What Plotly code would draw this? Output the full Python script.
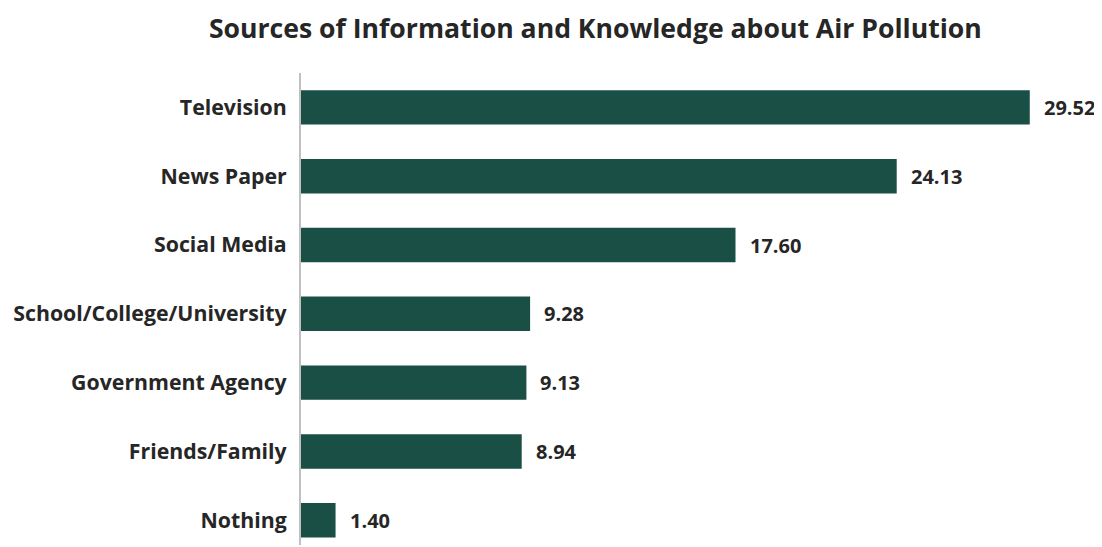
import plotly.graph_objects as go

SOURCES = ["Television", "News Paper", "Social Media", "School/College/University",
           "Government Agency", "Friends/Family", "Nothing"]
PERCENT = [29.52, 24.13, 17.60, 9.28, 9.13, 8.94, 1.40]

BAR = "#1a4f45"
TEXT = "#262626"
FONT = "Open Sans, Noto Sans, sans-serif"

fig = go.Figure(
    go.Bar(
        x=PERCENT,
        y=SOURCES,
        orientation="h",
        width=0.5,
        marker=dict(color=BAR, line=dict(width=0)),
        hoverinfo="x+y",
    )
)

for src, val in zip(SOURCES, PERCENT):
    fig.add_annotation(
        x=val, y=src, text=f"<b>{val:.2f}</b>", showarrow=False,
        xanchor="left", xshift=12, font=dict(size=20, color=TEXT, family=FONT),
    )

# page body adds an 8px offset, so margins are pulled in by 8
fig.update_layout(
    width=1102,
    height=547,
    paper_bgcolor="#FFFFFF",
    plot_bgcolor="#FFFFFF",
    margin=dict(l=293, r=19, t=65, b=10, autoexpand=False),
    showlegend=False,
    font=dict(family=FONT, color=TEXT),
    title=dict(
        text="<b>Sources of Information and Knowledge about Air Pollution</b>",
        x=0.533, xanchor="center", y=0.963, yanchor="middle",
        font=dict(size=26.6, color=TEXT, family=FONT),
    ),
)
fig.update_xaxes(range=[0, 32], visible=False, showgrid=False, zeroline=False)
fig.update_yaxes(
    range=[6.36, -0.5],
    automargin=False,
    showgrid=False,
    zeroline=False,
    showline=True,
    linecolor="#c0c0c0",
    linewidth=2,
    ticks="",
    ticklabelstandoff=8,
    tickfont=dict(size=21.3, color=TEXT, family=FONT),
    tickvals=SOURCES,
    ticktext=[f"<b>{s}</b>" for s in SOURCES],
)

fig.write_html("out.html")
